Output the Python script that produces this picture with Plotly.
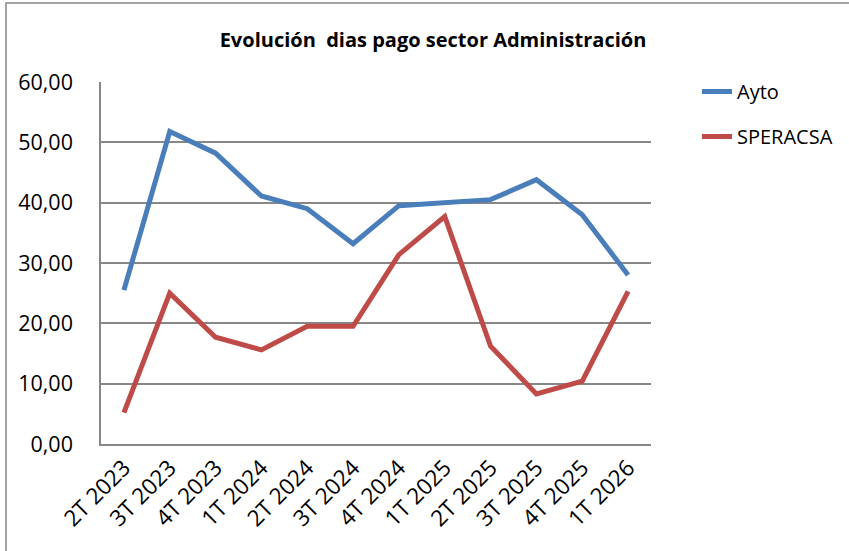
import plotly.graph_objects as go

categories = ["2T 2023", "3T 2023", "4T 2023", "1T 2024", "2T 2024", "3T 2024",
              "4T 2024", "1T 2025", "2T 2025", "3T 2025", "4T 2025", "1T 2026"]
ayto = [25.5, 51.8, 48.2, 41.1, 39.0, 33.2, 39.5, 40.1, 40.5, 43.8, 38.0, 28.0]
speracsa = [5.2, 25.0, 17.7, 15.6, 19.5, 19.5, 31.4, 37.7, 16.2, 8.3, 10.4, 25.3]
y_ticks = [0, 10, 20, 30, 40, 50, 60]

FONT = "Open Sans, Carlito, Calibri, sans-serif"

fig = go.Figure()
fig.add_trace(go.Scatter(x=categories, y=ayto, mode="lines", name="Ayto",
                         line=dict(color="#4A7EBB", width=5), legendgroup="a"))
fig.add_trace(go.Scatter(x=categories, y=speracsa, mode="lines", name="SPERACSA",
                         line=dict(color="#BE4B48", width=5), legendgroup="b"))

W, H = 849, 551
L, R, T, B = 101, 198, 82, 107
pw, ph = W - L - R, H - T - B

def px_x(x):
    return (x - L) / pw

def px_y(y):
    return (H - B - y) / ph

fig.update_layout(
    width=W, height=H,
    margin=dict(l=L, r=R, t=T, b=B, autoexpand=False),
    paper_bgcolor="white", plot_bgcolor="white",
    separators=",.",
    font=dict(family=FONT, color="#000000"),
    title=dict(text="<b>Evolución  dias pago sector Administración</b>",
               x=433 / W, xanchor="center", xref="container",
               y=1 - 40 / H, yanchor="middle", yref="container",
               font=dict(size=20, family=FONT)),
    showlegend=True,
    legend=dict(x=px_x(697), y=px_y(72), xanchor="left", yanchor="top",
                font=dict(size=20, family=FONT), tracegroupgap=16,
                bgcolor="rgba(0,0,0,0)", itemwidth=30),
    xaxis=dict(type="category", showgrid=False, showline=True, linecolor="#878787",
               linewidth=1.5, ticks="", tickangle=-45,
               tickfont=dict(size=22.5, family=FONT), range=[-0.5, 11.5]),
    yaxis=dict(range=[0, 60], tickvals=y_ticks, tickformat=".2f",
               showgrid=True, gridcolor="#878787", gridwidth=1.5,
               showline=True, linecolor="#878787", linewidth=1.5,
               ticks="", zeroline=False, ticklabelstandoff=22,
               tickfont=dict(size=21.5, family=FONT)),
    shapes=[dict(type="rect", xref="paper", yref="paper",
                 x0=px_x(6), x1=px_x(860), y0=px_y(560), y1=px_y(3),
                 line=dict(color="#878787", width=1.5), fillcolor="rgba(0,0,0,0)",
                 layer="below")],
)

fig.write_html("out.html", config={"displayModeBar": False},
               post_script="document.body.style.margin='0';")
